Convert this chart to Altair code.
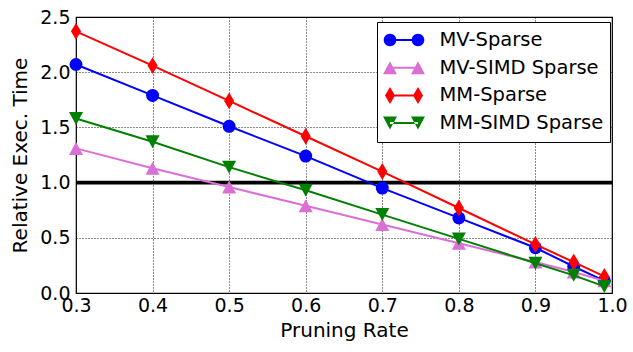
import math
import altair as alt
import pandas as pd

# ---- data ----
rates = [0.3, 0.4, 0.5, 0.6, 0.7, 0.8, 0.9, 0.95, 0.99]
series_names = ["MV-Sparse", "MV-SIMD Sparse", "MM-Sparse", "MM-SIMD Sparse"]
mv_sparse = [2.07, 1.79, 1.51, 1.24, 0.95, 0.68, 0.41, 0.24, 0.11]
mv_simd = [1.31, 1.13, 0.96, 0.79, 0.62, 0.45, 0.28, 0.19, 0.11]
mm_sparse = [2.37, 2.06, 1.74, 1.42, 1.10, 0.77, 0.44, 0.28, 0.15]
mm_simd = [1.58, 1.37, 1.14, 0.93, 0.71, 0.49, 0.27, 0.16, 0.06]
threshold = [1.0]
x_ticks = [0.3, 0.4, 0.5, 0.6, 0.7, 0.8, 0.9, 1.0]
y_ticks = [0.0, 0.5, 1.0, 1.5, 2.0, 2.5]

values_by_series = [mv_sparse, mv_simd, mm_sparse, mm_simd]
colors = ["#0000ff", "#da70d6", "#ff0000", "#008000"]

rows = []
for name, vals in zip(series_names, values_by_series):
    for r, v in zip(rates, vals):
        rows.append({"rate": r, "value": v, "series": name})
df = pd.DataFrame(rows)
thr_df = pd.DataFrame({"value": threshold})

# ---- marker shapes (unit space, scaled by sqrt(size)/2) ----
tri_up = "M0,-1L1.08,1L-1.08,1Z"
tri_down = "M0,1L1.08,-1L-1.08,-1Z"
thin_diamond = "M0,-1.3L0.78,0L0,1.3L-0.78,0Z"
plot_shapes = ["circle", tri_up, thin_diamond, tri_down]

# legend glyph: drawn with symbolSize LS, so 1 unit = sqrt(LS)/2 px
LS = 1681
U = math.sqrt(LS) / 2.0
PX = 1.0 / U
DX = 14 * PX   # glyph drawn shifted right inside the symbol box


def f(v):
    return f"{v:.3f}"


M = 14 * PX
LH = 1 * PX


def line_part():
    a, b = DX - M, DX + M
    return f"M{f(a)},{f(-LH)}L{f(b)},{f(-LH)}L{f(b)},{f(LH)}L{f(a)},{f(LH)}Z"


def circ(cx, r=6.3 * PX, n=24):
    cx += DX
    pts = []
    for i in range(n):
        a = 2 * math.pi * i / n
        pts.append(f"{f(cx + r * math.cos(a))},{f(r * math.sin(a))}")
    return "M" + "L".join(pts) + "Z"


def tri(cx, up=True, w=7 * PX, h=6.5 * PX):
    cx += DX
    if up:
        return f"M{f(cx)},{f(-h)}L{f(cx + w)},{f(h)}L{f(cx - w)},{f(h)}Z"
    return f"M{f(cx)},{f(h)}L{f(cx + w)},{f(-h)}L{f(cx - w)},{f(-h)}Z"


def dia(cx, w=5 * PX, h=8.5 * PX):
    cx += DX
    return f"M{f(cx)},{f(-h)}L{f(cx + w)},0L{f(cx)},{f(h)}L{f(cx - w)},0Z"


legend_shapes = [
    line_part() + circ(-M) + circ(M),
    line_part() + tri(-M) + tri(M),
    line_part() + dia(-M) + dia(M),
    line_part() + tri(-M, up=False) + tri(M, up=False),
]

FONT = "DejaVu Sans"

x_scale = alt.Scale(domain=[0.3, 1.0], nice=False, zero=False)
y_scale = alt.Scale(domain=[0.0, 2.5], nice=False, zero=False)
color_scale = alt.Scale(domain=series_names, range=colors)

x_axis = alt.Axis(values=x_ticks, format=".1f", title="Pruning Rate",
                  labelFontSize=19, titleFontSize=20, labelPadding=3,
                  titlePadding=5, tickSize=0, domain=False, grid=True,
                  gridColor="black", gridDash=[1, 2], gridOpacity=0.9,
                  labelOverlap=False, labelFlush=False, labelColor="black",
                  titleColor="black", titleFontWeight="normal", labelFont=FONT,
                  titleFont=FONT)
y_axis = alt.Axis(values=y_ticks, format=".1f", title="Relative Exec. Time",
                  labelFontSize=19, titleFontSize=20, labelPadding=6,
                  titlePadding=9, tickSize=0, domain=False, grid=True,
                  gridColor="black", gridDash=[1, 2], gridOpacity=0.9,
                  labelOverlap=False, labelFlush=False, labelColor="black",
                  titleColor="black", titleFontWeight="normal", labelFont=FONT,
                  titleFont=FONT)

X = alt.X("rate:Q", scale=x_scale, axis=x_axis)
Y = alt.Y("value:Q", scale=y_scale, axis=y_axis)

legend = alt.Legend(
    title=None, orient="none", legendX=301, legendY=5,
    fillColor="white", strokeColor="black", padding=6,
    cornerRadius=0, symbolSize=LS, symbolOpacity=1, symbolStrokeWidth=0,
    labelFontSize=19.5, labelFont=FONT, labelColor="black", labelOffset=29,
    clipHeight=24, rowPadding=3.7, symbolOffset=-13.5, labelLimit=400,
)

legend_layer = alt.Chart(df).mark_point(filled=True, opacity=0).encode(
    x=X, y=Y,
    fill=alt.Fill("series:N", scale=alt.Scale(domain=series_names, range=colors),
                  legend=legend),
    shape=alt.Shape("series:N",
                    scale=alt.Scale(domain=series_names, range=legend_shapes),
                    legend=legend),
)

rule = alt.Chart(thr_df).mark_rule(color="black", strokeWidth=3.8).encode(y=Y)

layers = [legend_layer, rule]
for name, shp in zip(series_names, plot_shapes):
    base = alt.Chart(df).transform_filter(alt.datum.series == name)
    line = base.mark_line(strokeWidth=2).encode(
        x=X, y=Y, color=alt.Color("series:N", scale=color_scale, legend=None))
    pts = base.mark_point(filled=True, opacity=1, size=169, shape=shp).encode(
        x=X, y=Y, color=alt.Color("series:N", scale=color_scale, legend=None))
    layers += [line, pts]

chart = alt.layer(*layers).properties(
    width=536, height=276,
    padding={"left": 76, "top": 17, "right": 21, "bottom": 59},
    autosize=alt.AutoSizeParams(type="none"),
).configure(font=FONT).configure_view(
    stroke="black", strokeWidth=1.2
).configure_legend(strokeWidth=1)

chart.save("out.html", embed_options={"renderer": "svg", "actions": False})
